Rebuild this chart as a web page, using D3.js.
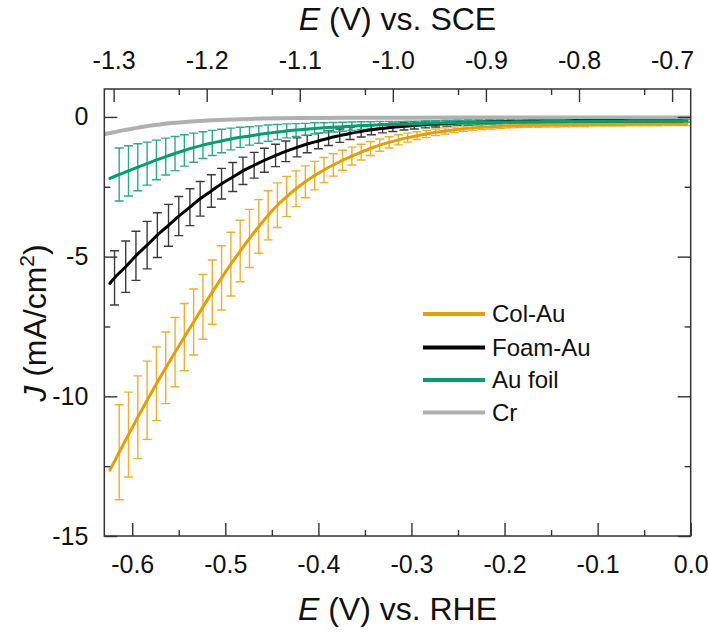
<!DOCTYPE html>
<html><head><meta charset="utf-8">
<script src="https://cdn.jsdelivr.net/npm/d3@7"></script>
<style>
body{margin:0;background:#fff}
svg{display:block}
text{font-family:"Liberation Sans",Arial,sans-serif;fill:#111}
</style>
</head><body>
<svg id="chart" width="708" height="632"></svg>
<script>
// ---------- data ----------
const xTickValuesRHE = [-0.6,-0.5,-0.4,-0.3,-0.2,-0.1,0.0];
const xTickLabelsRHE = ["-0.6","-0.5","-0.4","-0.3","-0.2","-0.1","0.0"];
const xTickValuesSCE = [-1.3,-1.2,-1.1,-1.0,-0.9,-0.8,-0.7];
const xTickLabelsSCE = ["-1.3","-1.2","-1.1","-1.0","-0.9","-0.8","-0.7"];
const yTickValues = [0,-5,-10,-15];
const yTickLabels = ["0","-5","-10","-15"];
const sceOffset = 0.68; // E(RHE) = E(SCE) + offset

const seriesNames = ["Col-Au","Foam-Au","Au foil","Cr"];

// shared potential grid (V vs RHE) for Col-Au and Au foil
const gridE = [-0.624,-0.614,-0.604,-0.594,-0.584,-0.574,-0.564,-0.554,-0.544,-0.534,
 -0.524,-0.514,-0.504,-0.494,-0.484,-0.474,-0.464,-0.454,-0.444,-0.434,
 -0.424,-0.414,-0.404,-0.394,-0.384,-0.374,-0.364,-0.354,-0.344,-0.334,
 -0.324,-0.314,-0.304,-0.294,-0.284,-0.274,-0.264,-0.254,-0.244,-0.234,
 -0.224,-0.214,-0.204,-0.194,-0.184,-0.174,-0.164,-0.154,-0.144,-0.134,
 -0.124,-0.114,-0.104,-0.094,-0.084,-0.074,-0.064,-0.054,-0.044,-0.034,
 -0.024,-0.014,-0.004];

const colAuJ = [-12.64,-12.00,-11.37,-10.75,-10.14,-9.55,-8.98,-8.42,-7.88,-7.34,
 -6.80,-6.27,-5.76,-5.27,-4.80,-4.35,-3.92,-3.52,-3.16,-2.85,
 -2.57,-2.32,-2.10,-1.90,-1.72,-1.55,-1.40,-1.26,-1.13,-1.01,
 -0.91,-0.82,-0.74,-0.67,-0.61,-0.55,-0.50,-0.46,-0.42,-0.39,
 -0.37,-0.35,-0.33,-0.32,-0.31,-0.30,-0.30,-0.29,-0.29,-0.28,
 -0.28,-0.28,-0.27,-0.27,-0.27,-0.27,-0.26,-0.26,-0.26,-0.26,
 -0.25,-0.25,-0.25];
const colAuErr = [null,1.70,1.52,1.48,1.40,1.32,1.28,1.24,1.20,1.18,
 1.16,1.15,1.15,1.14,1.10,1.04,0.96,0.88,0.80,0.72,
 0.64,0.57,0.51,0.45,0.40,0.36,0.32,0.28,0.25,0.22,
 0.20,0.18,0.16,0.14,0.13,0.12,0.11,0.10,0.09,0.09,
 0.08,0.08,0.08,0.07,0.07,0.07,0.07,0.07,0.07,0.07,
 0.06,0.06,0.06,0.06,0.06,0.06,0.06,0.06,0.06,0.06,
 0.06,0.06,0.06];

const auFoilJ = [-2.20,-2.06,-1.93,-1.80,-1.67,-1.54,-1.42,-1.31,-1.20,-1.10,
 -1.01,-0.93,-0.86,-0.79,-0.73,-0.68,-0.63,-0.58,-0.54,-0.50,
 -0.47,-0.44,-0.41,-0.39,-0.37,-0.35,-0.33,-0.31,-0.30,-0.28,
 -0.27,-0.26,-0.25,-0.24,-0.23,-0.22,-0.21,-0.21,-0.20,-0.20,
 -0.19,-0.19,-0.18,-0.18,-0.17,-0.17,-0.17,-0.16,-0.16,-0.16,
 -0.16,-0.15,-0.15,-0.15,-0.15,-0.15,-0.14,-0.14,-0.14,-0.14,
 -0.14,-0.14,-0.14];
const auFoilErr = [null,0.95,0.90,0.84,0.77,0.71,0.66,0.61,0.56,0.52,
 0.48,0.45,0.42,0.39,0.36,0.33,0.31,0.29,0.27,0.25,
 0.23,0.21,0.20,0.18,0.17,0.16,0.15,0.14,0.13,0.12,
 0.11,0.10,0.10,0.09,0.09,0.08,0.08,0.08,0.07,0.07,
 0.07,0.07,0.06,0.06,0.06,0.06,0.06,0.06,0.06,0.05,
 0.05,0.05,0.05,0.05,0.05,0.05,0.05,0.05,0.05,0.05,
 0.05,0.05,0.05];

const foamAuE = [-0.624,-0.619,-0.607,-0.596,-0.584,-0.573,-0.561,-0.550,-0.538,-0.527,
 -0.515,-0.504,-0.492,-0.481,-0.469,-0.458,-0.446,-0.435,-0.423,-0.412,
 -0.400,-0.389,-0.377,-0.366,-0.354,-0.343,-0.331,-0.320,-0.308,-0.297,
 -0.285,-0.274,-0.262,-0.251,-0.239,-0.228,-0.216,-0.205,-0.193,-0.182,
 -0.170,-0.159,-0.147,-0.136,-0.124,-0.113,-0.101,-0.090,-0.078,-0.067,
 -0.055,-0.044,-0.032,-0.021,-0.009];
const foamAuJ = [-5.96,-5.76,-5.36,-4.97,-4.59,-4.23,-3.88,-3.55,-3.23,-2.93,
 -2.65,-2.39,-2.15,-1.93,-1.73,-1.55,-1.38,-1.23,-1.09,-0.97,
 -0.86,-0.76,-0.67,-0.59,-0.52,-0.46,-0.41,-0.37,-0.33,-0.30,
 -0.27,-0.25,-0.23,-0.21,-0.20,-0.19,-0.18,-0.17,-0.16,-0.16,
 -0.15,-0.15,-0.15,-0.15,-0.14,-0.14,-0.14,-0.14,-0.14,-0.14,
 -0.14,-0.14,-0.14,-0.14,-0.14];
const foamAuErr = [null,0.97,0.92,0.88,0.85,0.80,0.75,0.70,0.66,0.62,
 0.58,0.55,0.52,0.49,0.46,0.43,0.40,0.37,0.34,0.31,
 0.28,0.26,0.24,0.22,0.20,0.18,0.16,0.15,0.14,0.13,
 0.12,0.11,0.10,0.09,0.09,0.08,0.08,0.07,0.07,0.07,
 0.06,0.06,0.06,0.06,0.06,0.06,0.06,0.06,0.05,0.05,
 0.05,0.05,0.05,0.05,0.05];

const crE = [-0.63,-0.62,-0.61,-0.60,-0.59,-0.58,-0.57,-0.56,-0.55,-0.54,-0.52,-0.50,
 -0.48,-0.46,-0.44,-0.42,-0.40,-0.35,-0.30,-0.25,-0.20,-0.10,0.0];
const crJ = [-0.62,-0.55,-0.48,-0.42,-0.36,-0.31,-0.27,-0.23,-0.20,-0.17,-0.13,-0.10,
 -0.08,-0.06,-0.05,-0.04,-0.035,-0.03,-0.025,-0.02,-0.02,-0.02,-0.02];

// ---------- layout / style ----------
const W = 708, H = 632;
const plot = {left:104.3, right:690.7, top:89, bottom:536};
const lineColors = {"Col-Au":"#E69F00","Foam-Au":"#000000","Au foil":"#009E73","Cr":"#B0B0B0"};
const barColors = {"Col-Au":"#F2AE2C","Foam-Au":"#3C3C3C","Au foil":"#2BAD86"};
const axisColor = "#333";
const fontTick = 25, fontTitle = 32, fontLegend = 24;

const svg = d3.select("#chart");
const x = d3.scaleLinear().domain([-0.63, 0.0]).range([plot.left, plot.right]);
const xTop = d3.scaleLinear().domain([-0.63 - sceOffset, 0.0 - sceOffset]).range([plot.left, plot.right]);
const y = d3.scaleLinear().domain([-15, 1]).range([plot.bottom, plot.top]);

function mk(E, J, err){ return E.map((e,i)=>({E:e, J:J[i], err: err ? err[i] : null})); }
const series = [
  {name:"Col-Au", data: mk(gridE, colAuJ, colAuErr)},
  {name:"Foam-Au", data: mk(foamAuE, foamAuJ, foamAuErr)},
  {name:"Au foil", data: mk(gridE, auFoilJ, auFoilErr)},
  {name:"Cr", data: mk(crE, crJ, null)}
];

svg.append("defs").append("clipPath").attr("id","clip")
  .append("rect").attr("x",plot.left).attr("y",plot.top)
  .attr("width",plot.right-plot.left).attr("height",plot.bottom-plot.top);

const g = svg.append("g").attr("clip-path","url(#clip)");

// error bars
const capHalf = 4.5;
["Col-Au","Foam-Au","Au foil"].forEach(nm=>{
  const s = series.find(d=>d.name===nm);
  const pts = s.data.filter(d=>d.err!=null);
  const eg = g.append("g").attr("stroke",barColors[nm]).attr("stroke-width",1.4).attr("fill","none");
  eg.selectAll("path").data(pts).join("path")
    .attr("d", d=>{
      const cx = x(d.E), y1 = y(d.J + d.err), y2 = y(d.J - d.err);
      return `M${cx},${y1}V${y2}M${cx-capHalf},${y1}H${cx+capHalf}M${cx-capHalf},${y2}H${cx+capHalf}`;
    });
});

// lines
const line = d3.line().x(d=>x(d.E)).y(d=>y(d.J)).curve(d3.curveMonotoneX);
["Cr","Col-Au","Foam-Au","Au foil"].forEach(nm=>{
  const s = series.find(d=>d.name===nm);
  g.append("path").datum(s.data)
    .attr("d", line).attr("fill","none")
    .attr("stroke", lineColors[nm])
    .attr("stroke-width", nm==="Cr" ? 4 : 3)
    .attr("stroke-linejoin","round").attr("stroke-linecap","round");
});

// ---------- axes ----------
const minorRHE = [-0.65,-0.55,-0.45,-0.35,-0.25,-0.15,-0.05].filter(v=>v>=-0.63);
const minorSCE = minorRHE.map(v=>+(v - sceOffset).toFixed(3));
const minorY = [-12.5,-7.5,-2.5];

function styleAxis(sel){
  sel.select(".domain").remove();
  sel.selectAll(".tick line").attr("stroke",axisColor).attr("stroke-width",1.4);
  sel.selectAll("text").attr("font-size",fontTick).attr("fill","#111").attr("font-family",'"Liberation Sans",Arial,sans-serif');
}

// bottom
svg.append("g").attr("transform",`translate(0,${plot.bottom})`)
  .call(d3.axisBottom(x).tickValues(minorRHE).tickSize(-6).tickFormat(""))
  .call(styleAxis);
svg.append("g").attr("transform",`translate(0,${plot.bottom})`)
  .call(d3.axisBottom(x).tickValues(xTickValuesRHE).tickSize(-13).tickPadding(19)
    .tickFormat((d,i)=>xTickLabelsRHE[i]))
  .call(styleAxis);
// top
svg.append("g").attr("transform",`translate(0,${plot.top})`)
  .call(d3.axisTop(xTop).tickValues(minorSCE).tickSize(-6).tickFormat(""))
  .call(styleAxis);
svg.append("g").attr("transform",`translate(0,${plot.top})`)
  .call(d3.axisTop(xTop).tickValues(xTickValuesSCE).tickSize(-13).tickPadding(20)
    .tickFormat((d,i)=>xTickLabelsSCE[i]))
  .call(styleAxis);
// left
svg.append("g").attr("transform",`translate(${plot.left},0)`)
  .call(d3.axisLeft(y).tickValues(minorY).tickSize(-6).tickFormat(""))
  .call(styleAxis);
svg.append("g").attr("transform",`translate(${plot.left},0)`)
  .call(d3.axisLeft(y).tickValues(yTickValues).tickSize(-13).tickPadding(16)
    .tickFormat((d,i)=>yTickLabels[i]))
  .call(styleAxis);
// right
svg.append("g").attr("transform",`translate(${plot.right},0)`)
  .call(d3.axisRight(y).tickValues(minorY).tickSize(-6).tickFormat(""))
  .call(styleAxis);
svg.append("g").attr("transform",`translate(${plot.right},0)`)
  .call(d3.axisRight(y).tickValues(yTickValues).tickSize(-13).tickFormat(""))
  .call(styleAxis);

// frame
svg.append("rect").attr("x",plot.left).attr("y",plot.top)
  .attr("width",plot.right-plot.left).attr("height",plot.bottom-plot.top)
  .attr("fill","none").attr("stroke",axisColor).attr("stroke-width",1.5);

// titles
const cx = (plot.left+plot.right)/2;
const topTitle = svg.append("text").attr("x",cx).attr("y",30).attr("text-anchor","middle").attr("font-size",fontTitle);
topTitle.append("tspan").attr("font-style","italic").text("E");
topTitle.append("tspan").text(" (V) vs. SCE");
const botTitle = svg.append("text").attr("x",cx).attr("y",620).attr("text-anchor","middle").attr("font-size",fontTitle);
botTitle.append("tspan").attr("font-style","italic").text("E");
botTitle.append("tspan").text(" (V) vs. RHE");
const yTitle = svg.append("text").attr("transform",`translate(46,323) rotate(-90)`)
  .attr("text-anchor","middle").attr("font-size",fontTitle);
yTitle.append("tspan").attr("font-style","italic").text("J");
yTitle.append("tspan").text(" (mA/cm");
yTitle.append("tspan").attr("font-size",21).attr("dy",-12).text("2");
yTitle.append("tspan").attr("dy",12).text(")");

// legend
const legY = [314, 347.5, 380, 412.5];
const leg = svg.append("g");
seriesNames.forEach((nm,i)=>{
  leg.append("line").attr("x1",423).attr("x2",485).attr("y1",legY[i]).attr("y2",legY[i])
    .attr("stroke",lineColors[nm]).attr("stroke-width",4);
  leg.append("text").attr("x",492).attr("y",legY[i]).attr("dy","0.35em").attr("font-size",fontLegend).text(nm);
});
</script>
</body></html>
